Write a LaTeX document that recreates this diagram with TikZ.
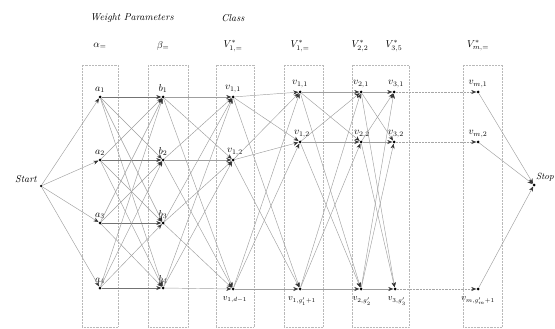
\documentclass[tikz,border=0pt]{standalone}
\usetikzlibrary{arrows.meta}
\begin{document}
\begin{tikzpicture}[x=1pt,y=-1pt,
  vtx/.style={circle,fill=black,inner sep=0pt,minimum size=3pt},
  edge/.style={draw=gray!75,line width=0.45pt,-{Stealth[length=5pt,width=4pt,color=black!80]}},
  hedge/.style={draw=gray!90!black,line width=0.6pt,-{Stealth[length=5pt,width=4pt,color=black!80]}},
  dedge/.style={draw=gray!70,line width=0.45pt,densely dotted,-{Stealth[length=5pt,width=4pt,color=black!80]}},
  colbox/.style={draw=gray!55,line width=0.45pt,densely dotted},
  lab/.style={font=\normalsize,inner sep=1pt},
  blab/.style={font=\small,inner sep=0.5pt,anchor=north},
  head/.style={font=\normalsize,inner sep=1pt},
  title/.style={font=\normalsize\itshape,inner sep=1pt}]
\useasboundingbox (0,0) rectangle (555,329);
% column boxes
\draw[colbox] (82,65) rectangle (118,327);
\draw[colbox] (148,65) rectangle (188,327);
\draw[colbox] (216,65) rectangle (254,327);
\draw[colbox] (284,65) rectangle (323,327);
\draw[colbox] (352,65) rectangle (409,327);
\draw[colbox] (463,65) rectangle (502,327);
% titles
\node[title] (tw) at (132,18) {Weight Parameters};
\node[title] (tc) at (233,18) {Class};
\node[head] (ha) at (100,46) {$\alpha_{=}$};
\node[head] (hb) at (163,46) {$\beta_{=}$};
\node[head] (hv1) at (233,46) {$V^{*}_{1,=}$};
\node[head] (hw) at (300,46) {$V^{*}_{1,=}$};
\node[head] (hv2) at (360,46) {$V^{*}_{2,2}$};
\node[head] (hv3) at (394,46) {$V^{*}_{3,5}$};
\node[head] (hvm) at (478,46) {$V^{*}_{m,=}$};
% start / stop
\node[vtx,minimum size=2.5pt] (start) at (41,186) {};
\node[font=\normalsize\itshape,anchor=south east,inner sep=1pt] (startl) at (38,184) {Start};
\node[vtx] (stop) at (534,185) {};
\node[font=\small\itshape,anchor=south west,inner sep=0.5pt] (stopl) at (535.5,182) {Stop};
% a and b layers
\foreach \i/\y in {1/97,2/160,3/223,4/288}{
  \node[vtx] (a\i) at (100,\y) {};
  \node[lab,anchor=south] at (100,\y-3) {$a_{\i}$};
  \node[vtx] (b\i) at (163,\y) {};
  \node[lab,anchor=south] at (163,\y-3) {$b_{\i}$};
}
% V layers
\node[vtx] (v11) at (233,97) {};  \node[lab,anchor=south] at (233,94) {$v_{1,1}$};
\node[vtx] (v12) at (233,160) {}; \node[lab,anchor=south] at (235,157) {$v_{1,2}$};
\node[vtx] (v13) at (233,289) {}; \node[blab] at (235,296) {$v_{1,d-1}$};
\node[vtx] (w1) at (300,92) {};   \node[lab,anchor=south] at (300,89) {$v_{1,1}$};
\node[vtx] (w2) at (300,142) {};  \node[lab,anchor=south] at (302,139) {$v_{1,2}$};
\node[vtx] (w3) at (300,289) {};  \node[blab] at (302,296) {$v_{1,g'_1+1}$};
\node[vtx] (v21) at (361,92) {};  \node[lab,anchor=south] at (361,89) {$v_{2,1}$};
\node[vtx] (v22) at (361,142) {}; \node[lab,anchor=south] at (362,139) {$v_{2,2}$};
\node[vtx] (v23) at (361,289) {}; \node[blab] at (362,296) {$v_{2,g'_2}$};
\node[vtx] (v31) at (394,92) {};  \node[lab,anchor=south] at (396,89) {$v_{3,1}$};
\node[vtx] (v32) at (394,142) {}; \node[lab,anchor=south] at (396,139) {$v_{3,2}$};
\node[vtx] (v33) at (395,289) {}; \node[blab] at (397,296) {$v_{3,g'_3}$};
\node[vtx] (vm1) at (478,92) {};  \node[lab,anchor=south] at (478,89) {$v_{m,1}$};
\node[vtx] (vm2) at (478,142) {}; \node[lab,anchor=south] at (478,139) {$v_{m,2}$};
\node[vtx] (vm3) at (478,289) {}; \node[blab] at (478,296) {$v_{m,g'_m+1}$};
% edges
\foreach \i in {1,...,4}{\draw[edge] (start) -- (a\i);}
\foreach \i in {1,...,4}{\foreach \j in {1,...,4}{
  \ifnum\i=\j \draw[hedge] (a\i) -- (b\j); \else \draw[edge] (a\i) -- (b\j); \fi}}
\foreach \i in {1,...,4}{\foreach \j in {1,2,3}{\draw[edge] (b\i) -- (v1\j);}}
\foreach \i in {1,2,3}{\foreach \j in {1,2,3}{\draw[edge] (v1\i) -- (w\j);}}
\foreach \i in {1,2,3}{\foreach \j in {1,2,3}{\draw[edge] (w\i) -- (v2\j);}}
\foreach \i in {1,2,3}{\foreach \j in {1,2,3}{\draw[edge] (v2\i) -- (v3\j);}}
\foreach \i in {1,2,3}{\draw[dedge] (v3\i) -- (vm\i);}
\foreach \i in {1,2,3}{\draw[edge] (vm\i) -- (stop);}
\end{tikzpicture}
\end{document}
